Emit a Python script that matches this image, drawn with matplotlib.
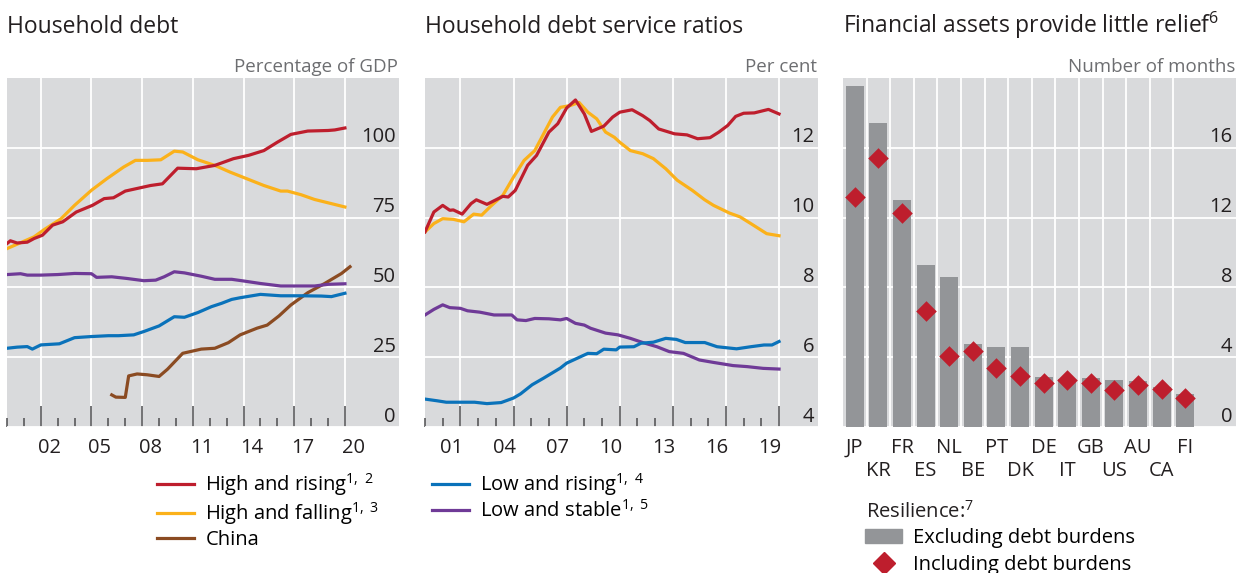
import numpy as np
import matplotlib
matplotlib.use("Agg")
import matplotlib.pyplot as plt
from matplotlib.lines import Line2D
from matplotlib.patches import Patch

plt.rcParams['font.family'] = ['Open Sans', 'DejaVu Sans']
plt.rcParams['mathtext.fontset'] = 'custom'
plt.rcParams['mathtext.rm'] = 'Open Sans'
plt.rcParams['mathtext.it'] = 'Open Sans'

BG = '#d9dadc'
RED = '#be1e2d'
YELLOW = '#fbb11a'
BROWN = '#8b4b22'
BLUE = '#0a72ba'
PURPLE = '#6f3a97'
BAR = '#939598'
TXT = '#231f20'
UNIT = '#6d6e71'

# ---- panel 1: household debt, % of GDP ----
hr1_x = [2000.0, 2000.2, 2000.6, 2001.2, 2001.6, 2002.1, 2002.7, 2003.3, 2004.1, 2005.06, 2005.75, 2006.3,
         2007.0, 2007.9, 2008.5, 2009.2, 2010.1, 2011.2, 2012.3, 2013.4, 2014.3, 2015.2, 2016.0, 2016.8,
         2017.8, 2019.0, 2019.4, 2020.0]
hr1_y = [65.7, 66.7, 65.9, 66.2, 67.5, 68.7, 72.3, 73.5, 77.0, 79.4, 81.8, 82.1,
         84.5, 85.7, 86.5, 87.1, 92.7, 92.5, 93.7, 96.1, 97.3, 99.0, 102.0, 104.8,
         106.0, 106.2, 106.4, 107.1]

hf1_x = [2000.0, 2000.8, 2001.6, 2002.2, 2003.2, 2004.0, 2005.0, 2005.9, 2006.9, 2007.6, 2008.3, 2009.1,
         2009.9, 2010.4, 2011.3, 2012.3, 2013.2, 2014.2, 2015.2, 2016.2, 2016.6, 2017.4, 2018.2, 2019.2, 2020.0]
hf1_y = [63.9, 66.0, 68.1, 70.7, 74.6, 79.4, 84.8, 88.9, 93.1, 95.5, 95.5, 95.7,
         98.8, 98.5, 95.7, 93.7, 91.3, 88.9, 86.5, 84.5, 84.5, 83.2, 81.5, 80.0, 78.8]

ls1_x = [2000.0, 2000.8, 2001.2, 2002.0, 2003.0, 2004.0, 2005.0, 2005.3, 2006.2, 2007.1, 2008.1, 2008.8,
         2009.3, 2009.9, 2010.5, 2011.5, 2012.3, 2013.3, 2014.0, 2015.0, 2016.2, 2017.0, 2018.2, 2019.0, 2020.0]
ls1_y = [54.6, 54.9, 54.4, 54.4, 54.6, 55.0, 54.9, 53.6, 53.8, 53.2, 52.4, 52.6,
         53.8, 55.6, 55.2, 54.0, 52.9, 52.9, 52.3, 51.4, 50.5, 50.5, 50.5, 51.1, 51.3]

lr1_x = [2000.0, 2000.6, 2001.2, 2001.5, 2002.0, 2003.1, 2004.0, 2005.0, 2006.0, 2006.6, 2007.5, 2008.1,
         2009.0, 2009.9, 2010.5, 2011.3, 2012.1, 2012.7, 2013.3, 2013.8, 2015.0, 2016.2, 2017.4, 2018.6,
         2019.2, 2020.0]
lr1_y = [28.2, 28.6, 28.8, 27.9, 29.4, 29.8, 32.0, 32.4, 32.7, 32.7, 33.0, 34.2,
         36.2, 39.5, 39.3, 41.0, 43.1, 44.3, 45.7, 46.3, 47.5, 47.0, 47.0, 46.9,
         46.7, 47.9]

cn_x = [2006.2, 2006.44, 2007.0, 2007.2, 2007.7, 2008.3, 2009.0, 2009.5, 2010.4, 2011.5, 2012.3, 2013.1,
        2013.8, 2014.8, 2015.4, 2016.1, 2016.8, 2017.8, 2018.8, 2019.8, 2020.3]
cn_y = [11.5, 10.7, 10.6, 18.3, 19.0, 18.7, 18.1, 20.7, 26.4, 27.9, 28.2, 30.2,
        33.0, 35.4, 36.5, 39.8, 43.7, 48.1, 51.4, 55.0, 57.4]

# ---- panel 2: debt service ratios, per cent ----
hr2_x = [2000.0, 2000.5, 2001.0, 2001.4, 2001.6, 2002.1, 2002.6, 2002.9, 2003.5, 2004.4, 2004.7, 2005.1,
         2005.8, 2006.3, 2007.0, 2007.5, 2008.0, 2008.5, 2009.0, 2009.4, 2010.1, 2010.6, 2011.0, 2011.7,
         2012.3, 2012.7, 2013.2, 2014.1, 2014.8, 2015.4, 2016.1, 2016.6, 2017.1, 2017.55, 2018.0, 2018.6,
         2019.4, 2020.0]
hr2_y = [9.59, 10.16, 10.35, 10.21, 10.22, 10.10, 10.40, 10.51, 10.38, 10.61, 10.59, 10.78,
         11.50, 11.78, 12.45, 12.69, 13.14, 13.37, 12.97, 12.47, 12.62, 12.88, 13.02, 13.09,
         12.92, 12.78, 12.54, 12.40, 12.37, 12.26, 12.29, 12.45, 12.64, 12.90, 12.99, 13.00,
         13.10, 12.97]

hf2_x = [2000.0, 2000.5, 2001.0, 2001.6, 2002.2, 2002.75, 2003.2, 2003.7, 2004.4, 2005.0, 2005.6, 2006.2,
         2006.7, 2007.2, 2007.65, 2008.2, 2008.7, 2009.2, 2009.7, 2010.2, 2010.7, 2011.0, 2011.6, 2012.3,
         2012.9, 2013.6, 2014.25, 2015.1, 2015.8, 2016.3, 2017.2, 2017.8, 2018.4, 2019.3, 2020.0]
hf2_y = [9.59, 9.83, 9.97, 9.95, 9.88, 10.10, 10.07, 10.32, 10.64, 11.16, 11.64, 11.92,
         12.40, 12.88, 13.16, 13.21, 13.30, 13.02, 12.83, 12.45, 12.30, 12.16, 11.92, 11.83,
         11.69, 11.40, 11.07, 10.78, 10.51, 10.35, 10.13, 10.02, 9.83, 9.54, 9.48]

lr2_x = [2000.0, 2000.7, 2001.2, 2002.0, 2002.8, 2003.5, 2004.3, 2005.0, 2005.4, 2006.05, 2006.7, 2007.65,
         2008.0, 2008.6, 2009.2, 2009.7, 2010.1, 2010.8, 2011.0, 2011.8, 2012.2, 2012.9, 2013.6, 2014.2,
         2014.7, 2015.8, 2016.5, 2017.6, 2018.4, 2019.15, 2019.6, 2020.0]
lr2_y = [4.80, 4.75, 4.71, 4.71, 4.71, 4.67, 4.70, 4.83, 4.95, 5.21, 5.40, 5.69,
         5.83, 5.97, 6.11, 6.10, 6.23, 6.21, 6.29, 6.30, 6.40, 6.43, 6.54, 6.51,
         6.42, 6.42, 6.30, 6.24, 6.30, 6.35, 6.35, 6.45]

ls2_x = [2000.0, 2000.5, 2001.0, 2001.4, 2002.0, 2002.4, 2003.1, 2003.9, 2004.9, 2005.2, 2005.7, 2006.2,
         2007.0, 2007.65, 2008.0, 2008.5, 2009.0, 2009.35, 2010.2, 2010.9, 2011.6, 2012.3, 2013.1, 2013.8,
         2014.6, 2015.5, 2016.3, 2017.4, 2018.2, 2019.1, 2020.0]
ls2_y = [7.21, 7.37, 7.50, 7.42, 7.40, 7.33, 7.29, 7.21, 7.21, 7.07, 7.05, 7.11,
         7.10, 7.07, 7.11, 6.97, 6.92, 6.83, 6.69, 6.64, 6.54, 6.42, 6.30, 6.16,
         6.11, 5.92, 5.85, 5.76, 5.73, 5.68, 5.66]

# ---- panel 3: resilience, number of months ----
countries = ['JP', 'KR', 'FR', 'ES', 'NL', 'BE', 'PT', 'DK', 'DE', 'IT', 'GB', 'US', 'AU', 'CA', 'FI']
excl_debt = [19.56, 17.4, 13.03, 9.31, 8.57, 4.73, 4.56, 4.56, 2.84, 2.77, 2.79, 2.67, 2.61, 2.3, 1.87]
incl_debt = [13.2, 15.4, 12.25, 6.64, 4.05, 4.33, 3.38, 2.94, 2.52, 2.67, 2.54, 2.1, 2.39, 2.19, 1.68]

W, H = 1241, 573
fig = plt.figure(figsize=(W / 100, H / 100), dpi=100)
FS = 14.5


def px_axes(x0, x1, y0, y1):
    return fig.add_axes([x0 / W, 1 - y1 / H, (x1 - x0) / W, (y1 - y0) / H])


def style_axes(ax, yticks, ylim, unit, title):
    ax.set_facecolor(BG)
    for s in ax.spines.values():
        s.set_visible(False)
    ax.set_ylim(*ylim)
    ax.set_yticks(yticks)
    ax.tick_params(axis='y', length=0, labelleft=False)
    for v in yticks:
        ax.annotate(str(v), (1, v), xycoords=('axes fraction', 'data'), xytext=(-3.5, 5.5),
                    textcoords='offset pixels', ha='right', va='baseline', fontsize=FS, color=TXT)
    ax.grid(True, color='white', lw=1.3)
    ax.set_axisbelow(True)
    ax.annotate(unit, (1, 1), xycoords='axes fraction', xytext=(-1, 6), textcoords='offset pixels',
                ha='right', va='baseline', fontsize=13.5, color=UNIT)
    ax.annotate(title, (0, 1), xycoords='axes fraction', xytext=(0, 45), textcoords='offset pixels',
                ha='left', va='baseline', fontsize=16.5, color=TXT)


def time_axes(ax, xlim, grid_years, label_pos, labels):
    ax.set_xlim(*xlim)
    ax.set_xticks(grid_years)
    ax.set_xticks(np.arange(2000, 2020), minor=True)
    ax.tick_params(axis='x', which='major', direction='in', length=15, width=1.1,
                   color='#4d4d4f', labelbottom=False)
    ax.tick_params(axis='x', which='minor', direction='in', length=6.5, width=1.1,
                   color='#4d4d4f')
    for p, lab in zip(label_pos, labels):
        ax.annotate(lab, (p, 0), xycoords=('data', 'axes fraction'), xytext=(0, -26),
                    textcoords='offset pixels', ha='center', va='baseline', fontsize=FS, color=TXT)


lw = 2.3

# panel 1
ax1 = px_axes(7, 399, 78, 427)
style_axes(ax1, [0, 25, 50, 75, 100], (0, 125), 'Percentage of GDP', 'Household debt')
time_axes(ax1, (2000, 2023.2), [2002, 2005, 2008, 2011, 2014, 2017, 2020],
          [2002.5, 2005.5, 2008.5, 2011.5, 2014.5, 2017.5, 2020.5],
          ['02', '05', '08', '11', '14', '17', '20'])
l_hr, = ax1.plot(hr1_x, hr1_y, color=RED, lw=lw, zorder=5)
l_hf, = ax1.plot(hf1_x, hf1_y, color=YELLOW, lw=lw, zorder=4)
l_cn, = ax1.plot(cn_x, cn_y, color=BROWN, lw=lw, zorder=3)
l_lr, = ax1.plot(lr1_x, lr1_y, color=BLUE, lw=lw, zorder=3)
l_ls, = ax1.plot(ls1_x, ls1_y, color=PURPLE, lw=lw, zorder=3)

# panel 2
ax2 = px_axes(425, 818, 78, 427)
style_axes(ax2, [4, 6, 8, 10, 12], (4, 14), 'Per cent', 'Household debt service ratios')
time_axes(ax2, (2000, 2022.2), [2002, 2005, 2008, 2011, 2014, 2017, 2020],
          [2001.5, 2004.5, 2007.5, 2010.5, 2013.5, 2016.5, 2019.5],
          ['01', '04', '07', '10', '13', '16', '19'])
ax2.plot(hf2_x, hf2_y, color=YELLOW, lw=lw, zorder=4)
ax2.plot(hr2_x, hr2_y, color=RED, lw=lw, zorder=5)
ax2.plot(ls2_x, ls2_y, color=PURPLE, lw=lw, zorder=3)
ax2.plot(lr2_x, lr2_y, color=BLUE, lw=lw, zorder=3)

# panel 3
ax3 = px_axes(843, 1236, 78, 427)
style_axes(ax3, [0, 4, 8, 12, 16], (0, 20), 'Number of months',
           'Financial assets provide little relief$^{6}$')
pos = np.arange(len(countries))
ax3.set_xlim(-0.5, 16.15)
ax3.set_xticks(pos[:-1] + 0.5)
ax3.tick_params(axis='x', length=0, labelbottom=False)
ax3.bar(pos, excl_debt, width=0.76, color=BAR, zorder=3)
ax3.scatter(pos, incl_debt, marker='D', s=110, color=RED, zorder=4, linewidths=0)
for i, c in enumerate(countries):
    ax3.annotate(c, (pos[i], 0), xycoords=('data', 'axes fraction'),
                 xytext=(0, -26 if i % 2 == 0 else -49.5), textcoords='offset pixels',
                 ha='center', va='baseline', fontsize=FS, color=TXT)

# legends
leg_kw = dict(frameon=False, fontsize=FS, handlelength=1.85, handletextpad=0.55,
              labelspacing=0.12, borderaxespad=0, borderpad=0)
fig.legend([l_hr, l_hf, l_cn],
           ['High and rising$^{1,\\ 2}$', 'High and falling$^{1,\\ 3}$', 'China'],
           loc='upper left', bbox_to_anchor=(157 / W, 1 - 471 / H), **leg_kw)
fig.legend([l_lr, l_ls],
           ['Low and rising$^{1,\\ 4}$', 'Low and stable$^{1,\\ 5}$'],
           loc='upper left', bbox_to_anchor=(432 / W, 1 - 471 / H), **leg_kw)

fig.text(866 / W, 1 - 512 / H, 'Resilience:$^{7}$', ha='left', va='center', fontsize=FS, color=TXT)
h_bar = Patch(color=BAR)
h_dia = Line2D([], [], marker='D', ls='none', color=RED, markersize=11)
fig.legend([h_bar, h_dia], ['Excluding debt burdens', 'Including debt burdens'],
           loc='upper left', bbox_to_anchor=(865 / W, 1 - 528 / H),
           **dict(leg_kw, labelspacing=0.35))

fig.savefig('out.png', dpi=100, facecolor='white')
